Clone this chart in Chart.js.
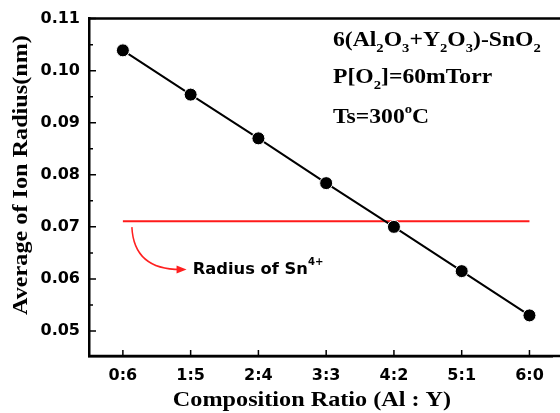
<!DOCTYPE html>
<html>
<head>
<meta charset="utf-8">
<script src="https://cdn.jsdelivr.net/npm/chart.js@4.4.1/dist/chart.umd.min.js"></script>
<style>
  html, body { margin: 0; padding: 0; background: #fff; }
  #wrap { width: 560px; height: 413px; }
</style>
</head>
<body>
<div id="wrap"><canvas id="chart"></canvas></div>
<script>
// datos
const ratios = ["0:6", "1:5", "2:4", "3:3", "4:2", "5:1", "6:0"];
const ionRadius = [0.1039, 0.0954, 0.0870, 0.0784, 0.0700, 0.0615, 0.0530];
const snRadius = 0.0711;
const yTicks = [0.05, 0.06, 0.07, 0.08, 0.09, 0.10, 0.11];

const sans = "'DejaVu Sans', sans-serif";
const serif = "'Liberation Serif', 'Times New Roman', serif";

// dibuja texto con subindices (sub) y superindices (sup), estirado en horizontal
function richText(ctx, parts, x, y, size, family, sx) {
  ctx.save();
  ctx.translate(x, y);
  ctx.scale(sx || 1, 1);
  let cx = 0;
  parts.forEach(p => {
    let s = size, dy = 0;
    if (p.sub) { s = size * 0.62; dy = size * 0.3; }
    if (p.sup) { s = size * 0.62; dy = -size * 0.45; }
    ctx.font = "bold " + s + "px " + family;
    ctx.fillText(p.t, cx, dy);
    cx += ctx.measureText(p.t).width;
  });
  ctx.restore();
}

const decoPlugin = {
  id: "deco",
  afterDraw(chart) {
    const ctx = chart.ctx;
    const a = chart.chartArea;
    const xs = chart.scales.x, ys = chart.scales.y;
    ctx.save();
    ctx.strokeStyle = "#000";
    ctx.lineWidth = 2.5;
    // lineas superior e inferior del marco hasta el borde
    ctx.beginPath();
    ctx.moveTo(a.left - 1, a.top);
    ctx.lineTo(560, a.top);
    ctx.moveTo(a.left - 1, a.bottom);
    ctx.lineTo(560, a.bottom);
    ctx.stroke();

    // marcas hacia dentro
    ctx.lineWidth = 1.5;
    ctx.beginPath();
    yTicks.forEach((v, i) => {
      const py = ys.getPixelForValue(v);
      ctx.moveTo(a.left, py); ctx.lineTo(a.left + 7, py);
      if (i > 0) {
        const pm = ys.getPixelForValue((v + yTicks[i - 1]) / 2);
        ctx.moveTo(a.left, pm); ctx.lineTo(a.left + 4, pm);
      }
    });
    ratios.forEach((r, i) => {
      const px = xs.getPixelForValue(i);
      ctx.moveTo(px, a.bottom); ctx.lineTo(px, a.bottom - 6);
    });
    ctx.stroke();

    // flecha roja
    const x0 = xs.getPixelForValue(0) + 9, y0 = ys.getPixelForValue(snRadius) + 6;
    const x1 = xs.getPixelForValue(0.94), y1 = ys.getPixelForValue(0.0618);
    ctx.strokeStyle = "#ff2020";
    ctx.fillStyle = "#ff2020";
    ctx.lineWidth = 1.5;
    ctx.beginPath();
    ctx.moveTo(x0, y0);
    ctx.quadraticCurveTo(x0 + 2, y1, x1 - 6, y1);
    ctx.stroke();
    ctx.beginPath();
    ctx.moveTo(x1, y1);
    ctx.lineTo(x1 - 10, y1 - 4);
    ctx.lineTo(x1 - 10, y1 + 4);
    ctx.closePath();
    ctx.fill();

    ctx.fillStyle = "#000";
    ctx.textBaseline = "middle";
    richText(ctx, [{t: "Radius of Sn"}, {t: "4+", sup: true}],
      xs.getPixelForValue(1.03), y1, 16, sans, 1.02);

    // textos de condiciones
    ctx.textBaseline = "alphabetic";
    const tx = 333;
    richText(ctx, [{t: "6(Al"}, {t: "2", sub: true}, {t: "O"}, {t: "3", sub: true},
      {t: "+Y"}, {t: "2", sub: true}, {t: "O"}, {t: "3", sub: true},
      {t: ")-SnO"}, {t: "2", sub: true}], tx, 46, 21.5, serif, 1.1);
    richText(ctx, [{t: "P[O"}, {t: "2", sub: true}, {t: "]=60mTorr"}], tx, 83, 21.5, serif, 1.1);
    richText(ctx, [{t: "Ts=300"}, {t: "o", sup: true}, {t: "C"}], tx, 123, 21.5, serif, 1.1);

    // titulos de ejes
    ctx.textAlign = "center";
    ctx.textBaseline = "middle";
    ctx.font = "bold 22px " + serif;
    ctx.save();
    ctx.translate(312, 400);
    ctx.scale(1.1, 1);
    ctx.fillText("Composition Ratio (Al : Y)", 0, 0);
    ctx.restore();
    ctx.translate(21, 175);
    ctx.rotate(-Math.PI / 2);
    ctx.scale(1.1, 1);
    ctx.fillText("Average of Ion Radius(nm)", 0, 0);
    ctx.restore();
  }
};

new Chart(document.getElementById("chart"), {
  type: "line",
  data: {
    datasets: [
      {
        data: ionRadius.map((v, i) => ({x: i, y: v})),
        borderColor: "#000",
        backgroundColor: "#000",
        borderWidth: 2,
        pointRadius: 6.5,
        pointHoverRadius: 6.5,
        pointBackgroundColor: "#000",
        pointBorderColor: "#fff",
        pointBorderWidth: 1
      },
      {
        data: [{x: 0, y: snRadius}, {x: ratios.length - 1, y: snRadius}],
        borderColor: "#ff1a1a",
        borderWidth: 2,
        pointRadius: 0
      }
    ]
  },
  options: {
    responsive: true,
    maintainAspectRatio: false,
    animation: false,
    layout: { padding: { top: 16, right: 0, left: 0, bottom: 0 } },
    plugins: { legend: { display: false }, tooltip: { enabled: false } },
    scales: {
      x: {
        type: "linear",
        min: -0.5,
        max: 6.34,
        afterFit: s => { s.height = 57; },
        afterBuildTicks: s => { s.ticks = ratios.map((r, i) => ({value: i})); },
        grid: { display: false, drawTicks: false },
        border: { display: true, color: "#000", width: 2.5 },
        ticks: {
          padding: 10,
          color: "#000",
          font: { family: sans, size: 16, weight: "bold" },
          callback: v => ratios[v]
        }
      },
      y: {
        min: 0.0452,
        max: 0.11,
        afterFit: s => { s.width = 89; },
        afterBuildTicks: s => { s.ticks = yTicks.map(v => ({value: v})); },
        grid: { display: false, drawTicks: false },
        border: { display: true, color: "#000", width: 2.5 },
        ticks: {
          padding: 9,
          color: "#000",
          font: { family: sans, size: 16, weight: "bold" },
          callback: v => v.toFixed(2)
        }
      }
    }
  },
  plugins: [decoPlugin]
});
</script>
</body>
</html>
